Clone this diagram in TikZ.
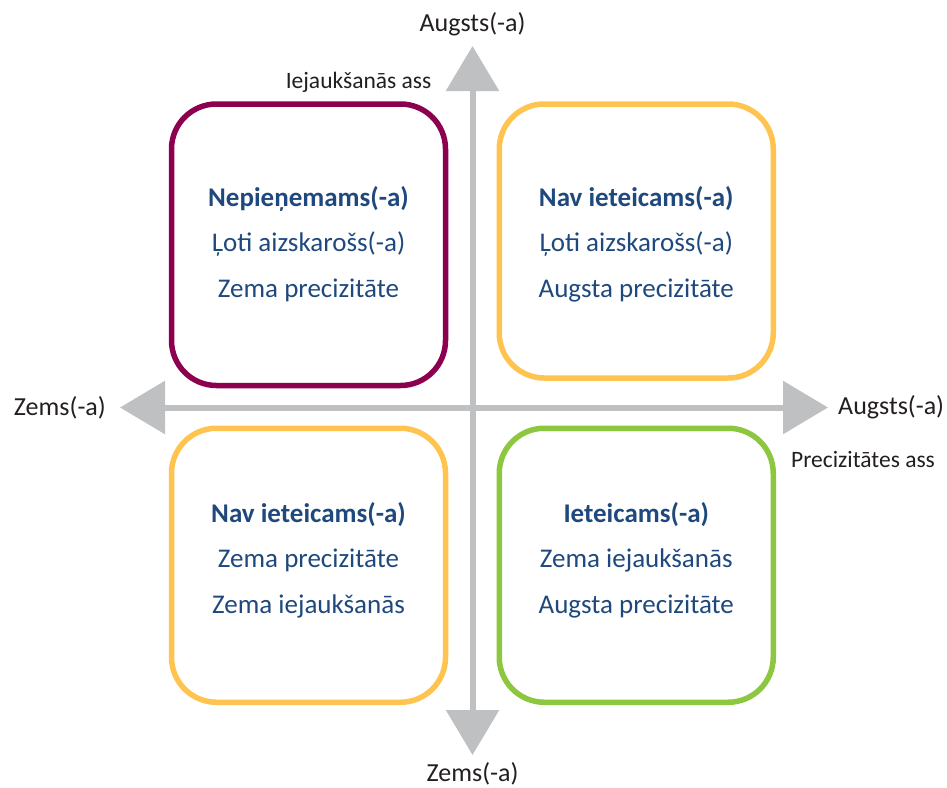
\documentclass[tikz,border=0pt]{standalone}
\usepackage{fontspec}
\setmainfont{Carlito}
\usetikzlibrary{arrows.meta}
\usetikzlibrary{positioning}
\definecolor{axisgray}{RGB}{191,192,194}
\definecolor{textblue}{RGB}{31,73,125}
\definecolor{labelblack}{RGB}{35,31,32}
\definecolor{boxpurple}{RGB}{140,0,80}
\definecolor{boxyellow}{RGB}{255,196,79}
\definecolor{boxgreen}{RGB}{141,198,63}

\begin{document}
\begin{tikzpicture}[x=1pt, y=-1pt,
axis/.style={draw=axisgray, line width=6pt, -{Triangle[length=45pt, width=52pt]}},
box/.style={rectangle, rounded corners=45pt, line width=5.5pt, minimum width=274pt, minimum height=274pt},
boxtext/.style={align=center, text=textblue, font=\fontsize{27}{45.5}\selectfont},
axislabel/.style={text=labelblack, font=\fontsize{26}{30}\selectfont, inner sep=0pt},
asslabel/.style={text=labelblack, font=\fontsize{23.5}{28}\selectfont, inner sep=0pt},
]
\useasboundingbox (0,0) rectangle (947,787);

% axes
\coordinate (c) at (472.5,407.5);
\coordinate (top) at (472.5,46);
\coordinate (bottom) at (472.5,755);
\coordinate (left) at (120,407.5);
\coordinate (right) at (828,407.5);
\draw[axis] (c) -- (top);
\draw[axis] (c) -- (bottom);
\draw[axis] (c) -- (left);
\draw[axis] (c) -- (right);

\node[axislabel, above=10pt of top] (toplabel) {Augsts(-a)};
\node[axislabel, below=7pt of bottom] (bottomlabel) {Zems(-a)};
\node[axislabel, left=14pt of left] (leftlabel) {Zems(-a)};
\node[axislabel, right=10pt of right] (rightlabel) {Augsts(-a)};
\node[asslabel] (vlabel) at (358.5,82) {Iejaukšanās ass};
\node[asslabel] (hlabel) at (863,459) {Precizitātes ass};

% quadrants
\node[box, draw=boxpurple, minimum height=281.5pt] (tl) at (308.5,244.75) {};
\node[box, draw=boxyellow] (tr) at (636.25,241) {};
\node[box, draw=boxyellow] (bl) at (308.5,565.25) {};
\node[box, draw=boxgreen] (br) at (636.25,565.25) {};

\node[boxtext] (tltext) at ([yshift=1pt]tl.center)
  {\textbf{Nepieņemams(-a)}\\Ļoti aizskarošs(-a)\\Zema precizitāte};
\node[boxtext] (trtext) at ([yshift=-3pt]tr.center)
  {\textbf{Nav ieteicams(-a)}\\Ļoti aizskarošs(-a)\\Augsta precizitāte};
\node[boxtext] (bltext) at ([yshift=5pt]bl.center)
  {\textbf{Nav ieteicams(-a)}\\Zema precizitāte\\Zema iejaukšanās};
\node[boxtext] (brtext) at ([yshift=5pt]br.center)
  {\textbf{Ieteicams(-a)}\\Zema iejaukšanās\\Augsta precizitāte};
\end{tikzpicture}
\end{document}
